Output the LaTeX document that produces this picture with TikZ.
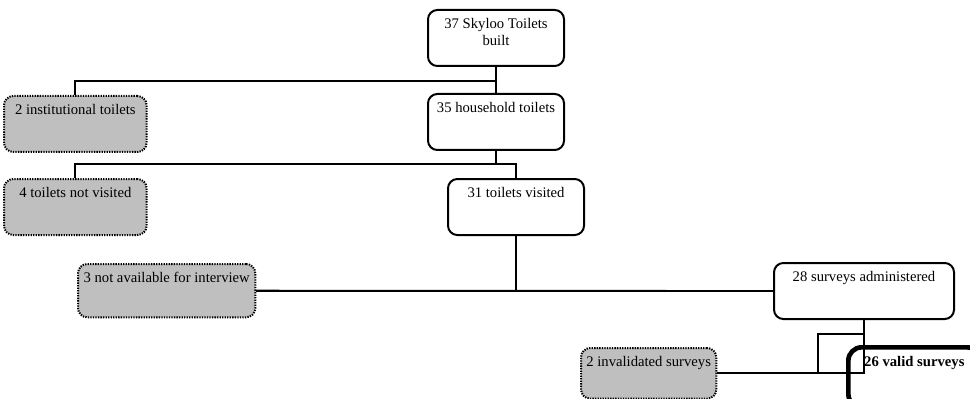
\documentclass[tikz,border=0pt]{standalone}
\usepackage{fontspec}
\setmainfont{Liberation Serif}
\usepackage{tikz}

\tikzset{
  box/.style={draw, line width=1.5pt, rounded corners=7pt, anchor=north west,
    inner sep=4pt, text height=10pt, text depth=24pt, align=center,
    font=\fontsize{11}{12.5}\selectfont},
  greybox/.style={box, fill=gray!50, dash pattern=on 1pt off 0.9pt},
  conn/.style={line width=1.4pt},
}

\begin{document}
\begin{tikzpicture}[x=0.75pt, y=-0.75pt]
	\useasboundingbox (0,0) rectangle (970,399);
	\clip (0,0) rectangle (970,399);
	
	% Main branch
	\node[box, minimum width=102pt, text height=22.5pt, text depth=11.5pt] (skyloo) at (427,9) {37 Skyloo Toilets\\built};
	\node[box, minimum width=102pt] (household) at (427,93) {35 household toilets};
	\node[box, minimum width=102pt] (visited) at (447,178) {31 toilets visited};
	\node[box, minimum width=135pt] (surveys) at (773,262) {28 surveys administered};
	\node[box, minimum width=99pt, line width=3.5pt, rounded corners=10pt, text depth=27pt, font=\fontsize{11}{12.5}\selectfont\bfseries] (valid) at (846,345) {26 valid surveys};
	
	% Excluded
	\node[greybox, minimum width=107pt] (inst) at (3,95) {2 institutional toilets};
	\node[greybox, minimum width=107pt] (notvisited) at (3,178) {4 toilets not visited};
	\node[greybox, minimum width=133pt, text depth=22pt] (notavail) at (77,263) {3 not available for interview};
	\node[greybox, minimum width=100pt, text depth=20pt] (invalid) at (580,347) {2 invalidated surveys};
	
	% Connectors
	\draw[conn] (skyloo.south) -- ++(0,14) coordinate (split1) -| (inst.north);
	\draw[conn] (split1) -- (household.north);
	\draw[conn] (household.south) -- ++(0,13) coordinate (split2) -| (notvisited.north);
	\draw[conn] (split2) -| (visited.north);
	\draw[conn] (visited.south) |- (notavail.east);
	\draw[conn] (notavail.east) -- (surveys.west);
	\draw[conn] (surveys.south) |- (invalid.east);
	\draw[conn] (surveys.south) ++(0,14) -- ++(-46,0) |- (invalid.east);
\end{tikzpicture}
\end{document}
